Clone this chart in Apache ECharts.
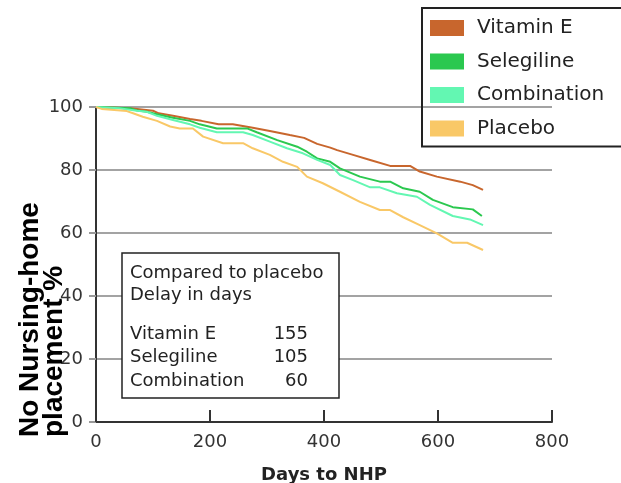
<!DOCTYPE html>
<html>
<head>
<meta charset="utf-8">
<script src="https://cdn.jsdelivr.net/npm/echarts@6/dist/echarts.min.js"></script>
<style>
  html, body { margin: 0; padding: 0; background: #ffffff; }
  #chart { width: 621px; height: 483px; }
</style>
</head>
<body>
<div id="chart"></div>
<script>
// Survival without nursing-home placement, [day, percent] per treatment arm
const vitaminE = [[0,100],[60,99.6],[100,98.8],[110,98.0],[135,97.2],[165,96.2],[185,95.6],[215,94.5],[240,94.5],[275,93.4],[305,92.4],[340,91.1],[365,90.2],[388,88.3],[411,87.1],[423,86.3],[451,84.8],[481,83.2],[516,81.3],[551,81.3],[568,79.5],[598,77.9],[639,76.3],[661,75.2],[679,73.7]];
const selegiline = [[0,100],[60,99.6],[70,99.0],[89,98.5],[107,97.7],[135,96.6],[165,95.6],[182,94.5],[212,93.2],[265,93.2],[282,92.0],[318,89.5],[353,87.4],[370,85.8],[388,83.7],[411,82.6],[428,80.5],[463,77.9],[498,76.3],[516,76.3],[539,74.2],[568,73.1],[591,70.5],[626,68.2],[661,67.5],[677,65.4]];
const combination = [[0,100],[40,99.6],[72,98.8],[89,98.5],[107,97.2],[135,95.9],[165,94.5],[182,93.4],[212,92.0],[258,92.0],[275,91.1],[305,89.0],[335,86.9],[363,85.3],[388,83.2],[411,81.6],[428,78.4],[451,76.8],[481,74.5],[498,74.5],[528,72.6],[563,71.5],[586,68.9],[626,65.4],[656,64.3],[679,62.5]];
const placebo = [[0,100],[10,99.4],[54,98.7],[65,98.0],[82,96.9],[107,95.6],[130,93.8],[147,93.2],[170,93.2],[188,90.6],[223,88.5],[258,88.5],[275,86.9],[305,84.8],[328,82.6],[353,81.0],[370,77.9],[398,75.8],[428,73.1],[463,69.9],[498,67.3],[516,67.3],[539,65.0],[568,62.5],[598,59.9],[626,56.9],[651,56.9],[679,54.6]];

const seriesNames = ['Vitamin E', 'Selegiline', 'Combination', 'Placebo'];
const seriesData = [vitaminE, selegiline, combination, placebo];
const seriesColors = ['#c8662d', '#2bc84f', '#63f7b2', '#f9c867'];

// Delay relative to placebo
const delayLabels = ['Vitamin E', 'Selegiline', 'Combination'];
const delayDays = [155, 105, 60];

const xTicks = { min: 0, max: 800, interval: 200 };
const yTicks = { min: 0, max: 100, interval: 20 };

const chart = echarts.init(document.getElementById('chart'), null, { renderer: 'canvas' });

const labelFont = 'DejaVu Sans, Verdana, sans-serif';

// Annotation box inside the plot area
const boxX = 122, boxY = 253, boxW = 217, boxH = 145;
const boxZ = 50;
const boxElements = [
  { type: 'rect', z: boxZ, shape: { x: boxX, y: boxY, width: boxW, height: boxH },
    style: { fill: '#ffffff', stroke: '#222222', lineWidth: 1.5 } },
  { type: 'text', z: boxZ + 1, x: 130, y: 273, style: { text: 'Compared to placebo', font: '18px ' + labelFont, fill: '#222', verticalAlign: 'middle' } },
  { type: 'text', z: boxZ + 1, x: 130, y: 295, style: { text: 'Delay in days', font: '18px ' + labelFont, fill: '#222', verticalAlign: 'middle' } }
];
delayLabels.forEach((name, i) => {
  const cy = 334 + i * 23.5;
  boxElements.push({ type: 'text', z: boxZ + 1, x: 130, y: cy, style: { text: name, font: '18px ' + labelFont, fill: '#222', verticalAlign: 'middle' } });
  boxElements.push({ type: 'text', z: boxZ + 1, x: 308, y: cy, style: { text: String(delayDays[i]), font: '18px ' + labelFont, fill: '#222', align: 'right', verticalAlign: 'middle' } });
});

chart.setOption({
  animation: false,
  backgroundColor: '#ffffff',
  grid: { left: 96, right: 69, top: 107, bottom: 61, containLabel: false, outerBoundsMode: 'none' },
  legend: {
    orient: 'vertical',
    left: 422, top: 8,
    padding: [10, 40, 8, 8],
    itemWidth: 34, itemHeight: 16, itemGap: 13.5,
    icon: 'rect',
    borderColor: '#222', borderWidth: 2,
    textStyle: { fontFamily: labelFont, fontSize: 20, color: '#222', padding: [0, 0, 0, 8] },
    data: seriesNames
  },
  xAxis: {
    type: 'value',
    min: xTicks.min, max: xTicks.max, interval: xTicks.interval,
    name: 'Days to NHP',
    nameLocation: 'middle', nameGap: 44,
    nameTextStyle: { fontFamily: labelFont, fontWeight: 'bold', fontSize: 18, color: '#222' },
    axisLine: { show: true, lineStyle: { color: '#333', width: 2 } },
    axisTick: { show: true, inside: true, length: 12, lineStyle: { color: '#333', width: 2 } },
    axisLabel: { fontFamily: labelFont, fontSize: 18, color: '#333', margin: 11 },
    splitLine: { show: false }
  },
  yAxis: {
    type: 'value',
    min: yTicks.min, max: yTicks.max, interval: yTicks.interval,
    axisLine: { show: true, lineStyle: { color: '#333', width: 2 } },
    axisTick: { show: true, length: 7, lineStyle: { color: '#999', width: 2 } },
    axisLabel: { fontFamily: labelFont, fontSize: 18, color: '#333', margin: 13 },
    splitLine: { show: true, lineStyle: { color: '#a3a3a3', width: 2 } }
  },
  series: seriesNames.map((name, i) => ({
    name: name,
    type: 'line',
    data: seriesData[i],
    color: seriesColors[i],
    showSymbol: false,
    symbol: 'none',
    lineStyle: { width: 2, color: seriesColors[i] },
    z: 3 + i
  })),
  graphic: boxElements.concat([
    {
      type: 'text',
      x: 18, y: 437,
      rotation: Math.PI / 2,
      style: {
        text: 'No Nursing-home\nplacement %',
        font: 'bold 28px Liberation Sans, Arial, sans-serif',
        lineHeight: 24,
        fill: '#000',
        align: 'left',
        verticalAlign: 'top'
      },
      z: 60
    }
  ])
});
</script>
</body>
</html>
